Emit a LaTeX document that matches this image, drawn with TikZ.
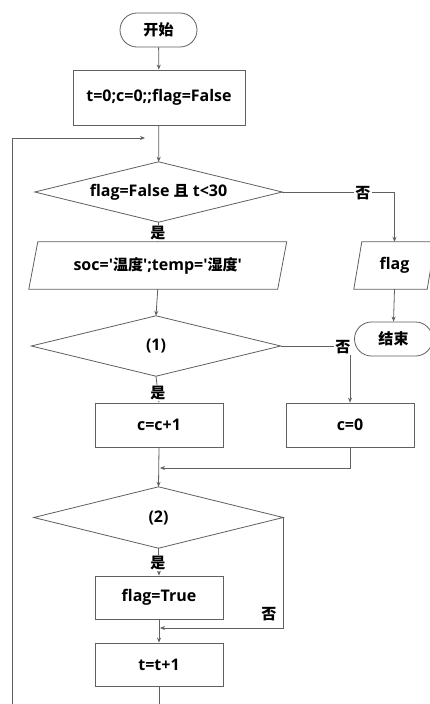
\documentclass[tikz,border=0pt]{standalone}
\usepackage{fontspec}
\setmainfont{Open Sans}
\newfontfamily\cjk{Noto Sans CJK SC}[Scale=0.94]
\usetikzlibrary{arrows.meta}
\definecolor{ln}{HTML}{606060}
\begin{document}
\begin{tikzpicture}[x=1pt,y=-1pt,
  every node/.style={font=\fontsize{16}{18}\selectfont\bfseries, text=black},
  boxnode/.style={draw=ln, line width=0.8pt, rectangle, minimum width=128pt, minimum height=44pt, inner sep=0pt},
  termnode/.style={draw=ln, line width=0.8pt, rectangle, rounded corners=17pt, minimum width=77pt, minimum height=34pt, inner sep=0pt},
  ionode/.style={rectangle, inner sep=0pt},
  lbl/.style={fill=white, inner sep=1pt},
  conn/.style={draw=ln, line width=0.8pt},
  arr/.style={conn, -{Stealth[length=5pt,width=4pt]}}
]
\useasboundingbox (0,0) rectangle (430,704);
\clip (0,0) rectangle (430,704);
\fill[white] (0,0) rectangle (430,704);

\node[termnode] (start) at (158.5,30) {\cjk\bfseries 开始};
\node[boxnode, minimum width=172pt, minimum height=55pt] (init) at (159,97.5) {t=0;c=0;;flag=False};
\node[ionode, minimum width=247pt, minimum height=60pt] (d1) at (158.5,192) {flag=False {\cjk\bfseries 且} t<30};
\draw[conn] (d1.north) -- (d1.east) -- (d1.south) -- (d1.west) -- cycle;
\node[ionode, minimum width=248.5pt, minimum height=47pt] (soc) at (157.75,265.5) {soc=\textquotesingle{\cjk\bfseries 温度}\textquotesingle;temp=\textquotesingle{\cjk\bfseries 湿度}\textquotesingle};
\draw[conn] ([xshift=4.5pt]soc.north west) -- ([xshift=4.5pt]soc.north east) -- ([xshift=-4.5pt]soc.south east) -- ([xshift=-4.5pt]soc.south west) -- cycle;
\node[ionode, minimum width=73pt, minimum height=47pt] (flag) at (394.5,265.5) {flag};
\draw[conn] ([xshift=4pt]flag.north west) -- ([xshift=4pt]flag.north east) -- ([xshift=-4pt]flag.south east) -- ([xshift=-4pt]flag.south west) -- cycle;
\node[termnode, minimum width=78pt] (end) at (393.5,339) {\cjk\bfseries 结束};
\node[ionode, minimum width=249pt, minimum height=60pt] (d2) at (156,346) {(1)};
\draw[conn] (d2.north) -- (d2.east) -- (d2.south) -- (d2.west) -- cycle;
\node[boxnode] (cc) at (159,425) {c=c+1};
\node[boxnode] (c0) at (350,425) {c=0};
\node[ionode, minimum width=249pt, minimum height=61pt] (d3) at (158.5,517.5) {(2)};
\draw[conn] (d3.north) -- (d3.east) -- (d3.south) -- (d3.west) -- cycle;
\node[boxnode, minimum height=43pt] (ft) at (159,597.5) {flag=True};
\node[boxnode, minimum height=43pt] (tt) at (159,664.5) {t=t+1};

\coordinate (m1) at (159,468);
\coordinate (m2) at (159,628);
\coordinate (lb) at (12,720);
\coordinate (lt) at (12,138);
\coordinate (le) at (145,138);

\draw[arr] (start) -- (init);
\draw[arr] (init) -- (d1);
\draw[arr] (d1.east) -| (flag.north);
\draw[arr] (d1.south) -- (soc.north);
\draw[arr] (flag.south) -- (end.north);
\draw[arr] (soc.south) -- (d2.north);
\draw[arr] (d2.east) -| (c0.north);
\draw[arr] (d2.south) -- (cc.north);
\draw[arr] (cc.south) -- (d3.north);
\draw[arr] (c0.south) |- ([xshift=1pt]m1);
\draw[arr] (d3.south) -- (ft.north);
\draw[arr] (ft.south) -- (tt.north);
\draw[arr] (d3.east) |- ([xshift=1pt]m2);
\draw[arr] (tt.south) -- (159,720) -- (lb) -- (lt) -- (le);

\node[lbl] at (363,193) {\cjk\bfseries 否};
\node[lbl] at (158,233) {\cjk\bfseries 是};
\node[lbl] at (343,347) {\cjk\bfseries 否};
\node[lbl] at (158,393) {\cjk\bfseries 是};
\node[lbl] at (158,563) {\cjk\bfseries 是};
\node[lbl] at (269,614) {\cjk\bfseries 否};
\end{tikzpicture}
\end{document}
